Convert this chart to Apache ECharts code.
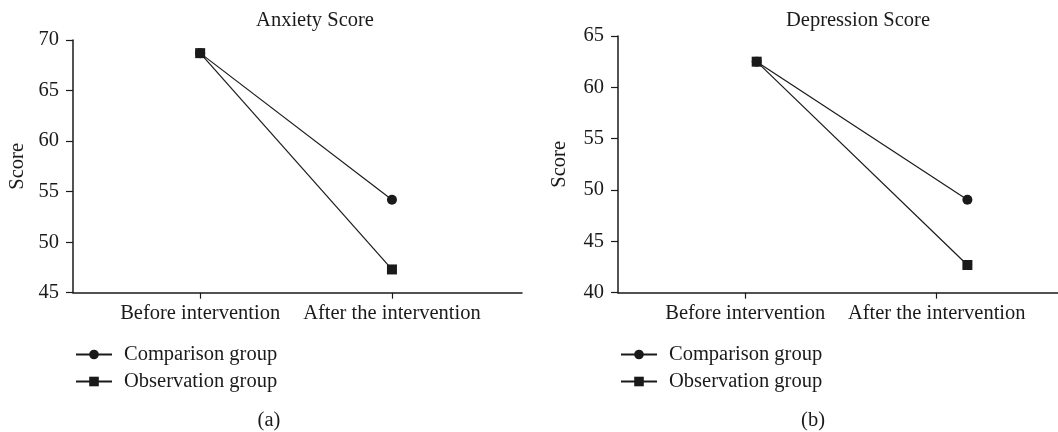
<!DOCTYPE html>
<html>
<head>
<meta charset="utf-8">
<title>Anxiety and Depression Scores</title>
<script src="https://cdn.jsdelivr.net/npm/echarts@6/dist/echarts.min.js"></script>
<style>
  html, body { margin: 0; padding: 0; background: #fff; }
  #chart { width: 1058px; height: 432px; }
</style>
</head>
<body>
<div id="chart"></div>
<script>
// Time points (positions 1 and 2 on each x axis)
const categories = ['Before intervention', 'After the intervention'];
const tickPositions = [1, 2];

// Panel (a): anxiety scores
const anxietyX = [1, 2];
const anxietyComparison = [68.7, 54.2];
const anxietyObservation = [68.7, 47.3];
const anxietyTicks = [45, 50, 55, 60, 65, 70];

// Panel (b): depression scores
const depressionX = [1.06, 2.16];
const depressionComparison = [62.5, 49.05];
const depressionObservation = [62.5, 42.7];
const depressionTicks = [40, 45, 50, 55, 60, 65];

const seriesNames = ['Comparison group', 'Observation group'];
const ink = '#1a1a1a';
const font = 'Liberation Serif';

function pairs(xs, ys) { return xs.map((x, i) => [x, ys[i]]); }

function xAxisFor(gridIndex, min, max) {
  return {
    type: 'value', gridIndex, min, max,
    axisLine: { show: true, lineStyle: { color: ink, width: 1.5 } },
    axisTick: { show: true, customValues: tickPositions, length: 6, lineStyle: { color: ink, width: 1.2 } },
    axisLabel: {
      customValues: tickPositions, margin: 10,
      color: ink, fontFamily: font, fontSize: 20.5,
      formatter: v => categories[tickPositions.indexOf(v)] || ''
    },
    splitLine: { show: false }
  };
}

function yAxisFor(gridIndex, ticks, nameGap) {
  return {
    type: 'value', gridIndex,
    min: ticks[0], max: ticks[ticks.length - 1], interval: ticks[1] - ticks[0],
    name: 'Score', nameLocation: 'middle', nameGap,
    nameTextStyle: { color: ink, fontFamily: font, fontSize: 20.5 },
    axisLine: { show: true, lineStyle: { color: ink, width: 1.5 } },
    axisTick: { show: true, length: 7, lineStyle: { color: ink, width: 1.2 } },
    axisLabel: { color: ink, fontFamily: font, fontSize: 20.5, margin: 14 },
    splitLine: { show: false }
  };
}

function lineSeries(name, idx, data, symbol) {
  return {
    name, type: 'line', xAxisIndex: idx, yAxisIndex: idx,
    data, symbol, symbolSize: 10,
    lineStyle: { color: ink, width: 1.2 },
    itemStyle: { color: ink },
    animation: false
  };
}

function legendAt(left) {
  return {
    orient: 'vertical', left, top: 344,
    itemWidth: 36, itemHeight: 12, itemGap: 6,
    padding: 0,
    data: seriesNames,
    selectedMode: false,
    textStyle: { color: ink, fontFamily: font, fontSize: 20.5, padding: [0, 0, 0, 7] }
  };
}

const chart = echarts.init(document.getElementById('chart'), null, { renderer: 'canvas' });
chart.setOption({
  backgroundColor: '#fff',
  animation: false,
  title: [
    { text: 'Anxiety Score', left: 310, top: 5, textAlign: 'center',
      textStyle: { color: ink, fontFamily: font, fontSize: 20.5, fontWeight: 'normal' } },
    { text: 'Depression Score', left: 853, top: 5, textAlign: 'center',
      textStyle: { color: ink, fontFamily: font, fontSize: 20.5, fontWeight: 'normal' } },
    { text: '(a)', left: 264, top: 405, textAlign: 'center',
      textStyle: { color: ink, fontFamily: font, fontSize: 20.5, fontWeight: 'normal' } },
    { text: '(b)', left: 808, top: 405, textAlign: 'center',
      textStyle: { color: ink, fontFamily: font, fontSize: 20.5, fontWeight: 'normal' } }
  ],
  legend: [legendAt(75), legendAt(620)],
  grid: [
    { left: 73, top: 40, width: 449, height: 252.7 },
    { left: 618, top: 36, width: 440, height: 256.7 }
  ],
  xAxis: [xAxisFor(0, 0.337, 2.678), xAxisFor(1, 0.336, 2.633)],
  yAxis: [yAxisFor(0, anxietyTicks, 45), yAxisFor(1, depressionTicks, 48)],
  series: [
    lineSeries(seriesNames[0], 0, pairs(anxietyX, anxietyComparison), 'circle'),
    lineSeries(seriesNames[1], 0, pairs(anxietyX, anxietyObservation), 'rect'),
    lineSeries(seriesNames[0], 1, pairs(depressionX, depressionComparison), 'circle'),
    lineSeries(seriesNames[1], 1, pairs(depressionX, depressionObservation), 'rect')
  ]
});
</script>
</body>
</html>
